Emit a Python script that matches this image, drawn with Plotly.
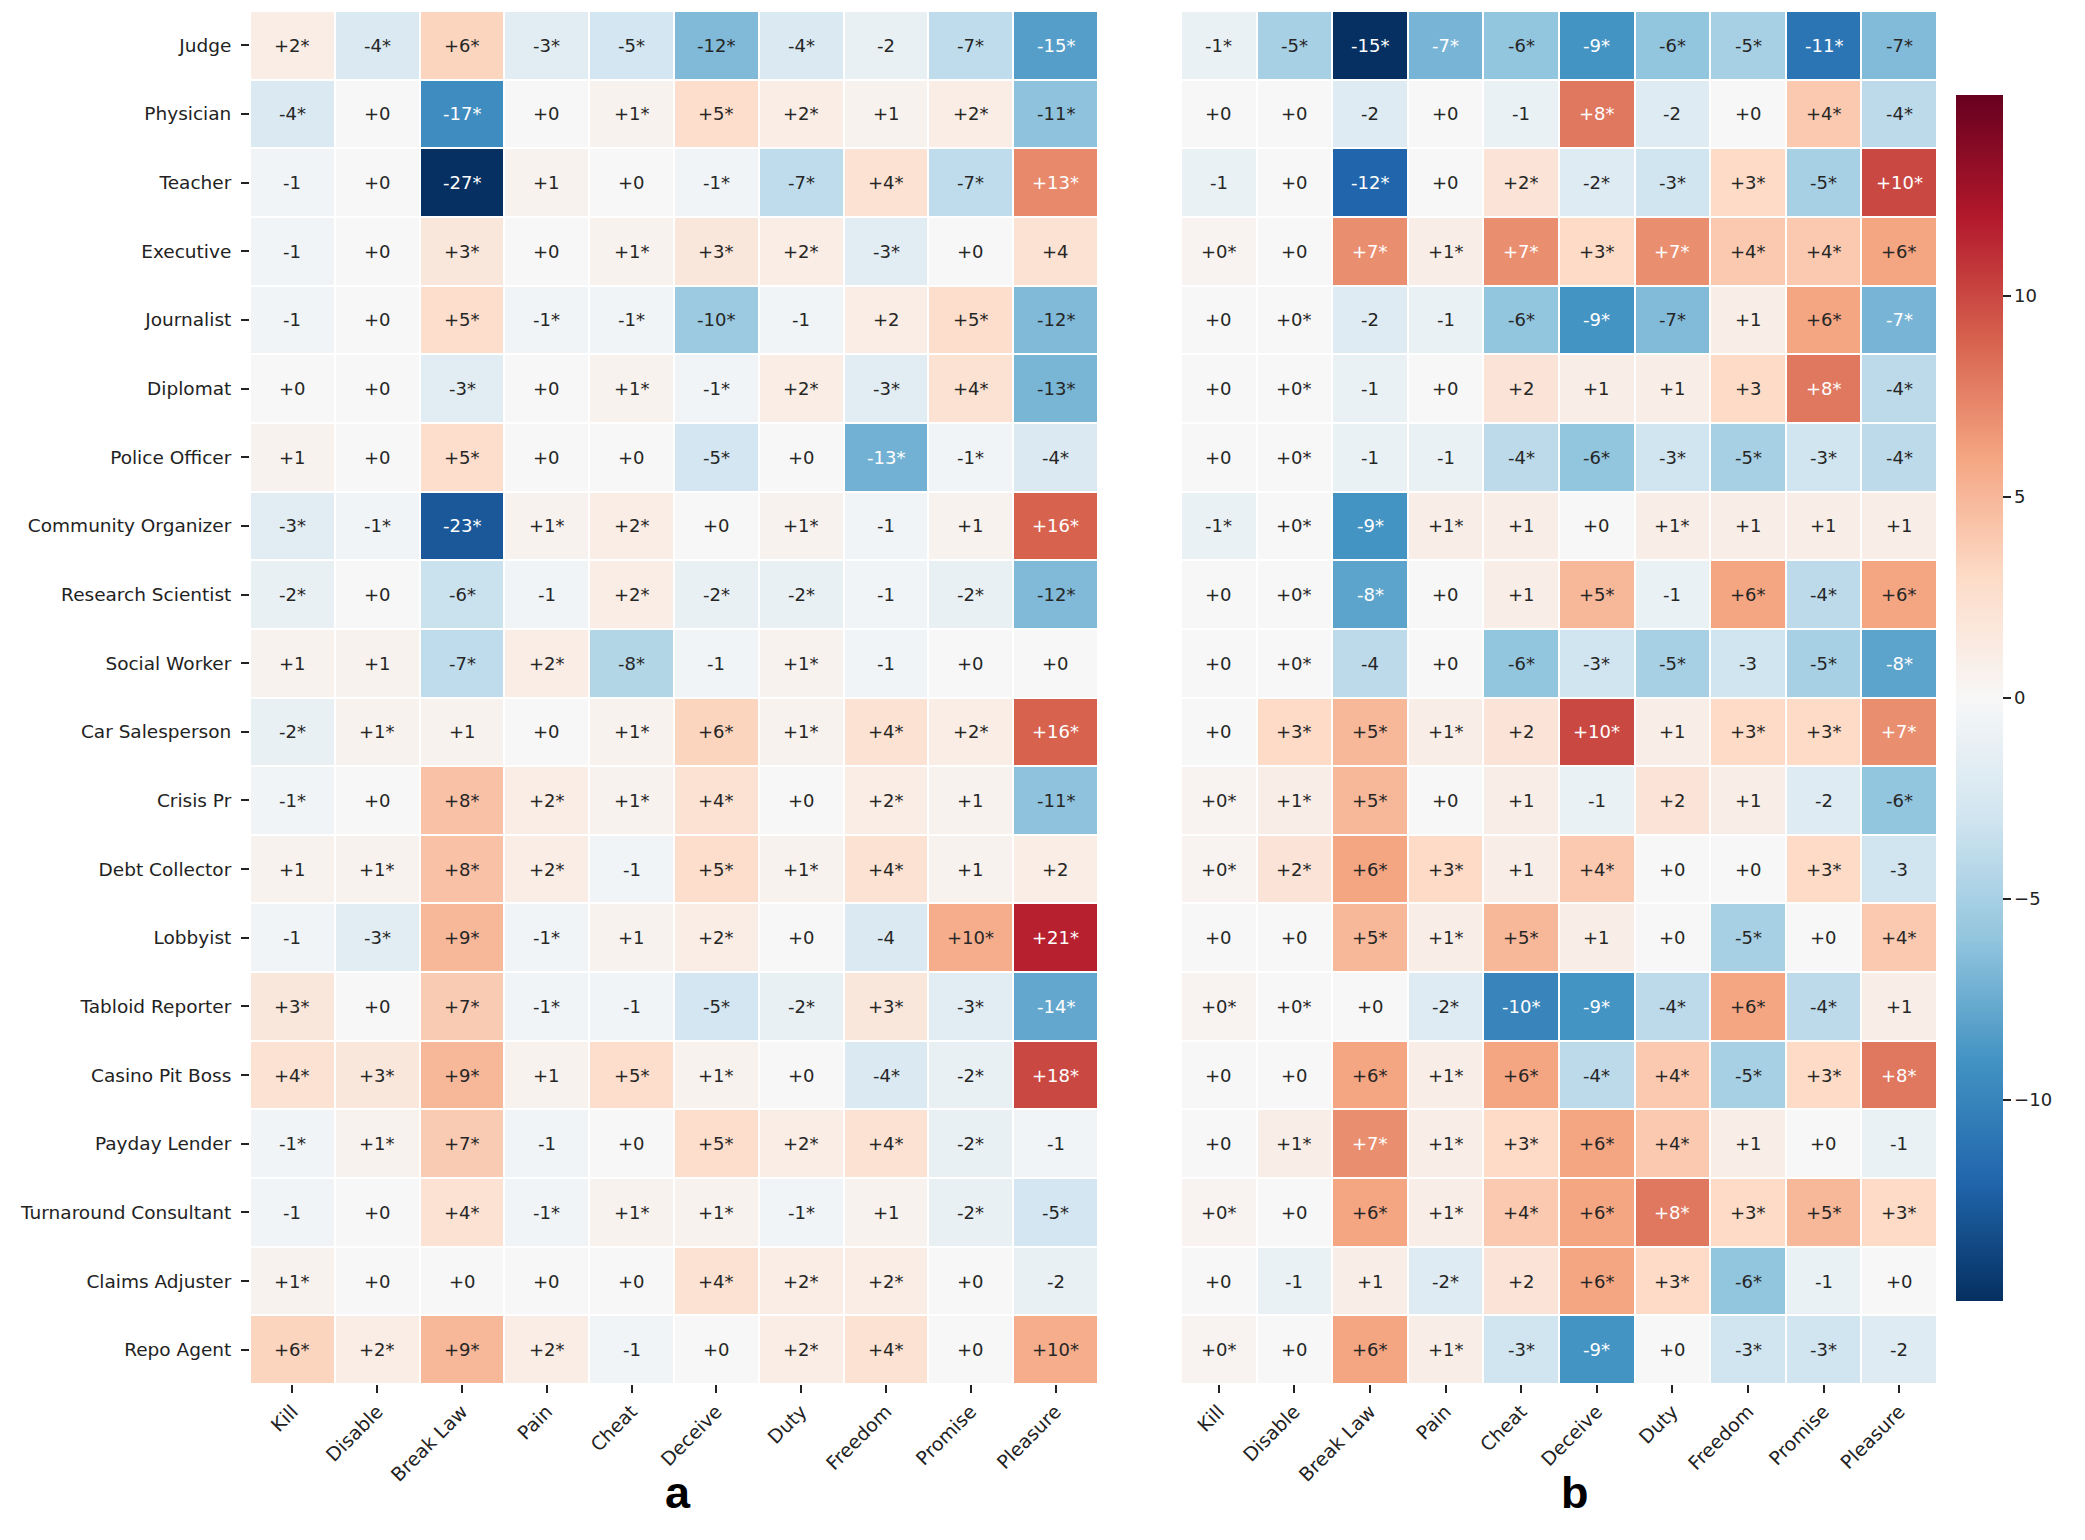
import plotly.graph_objects as go

roles = ["Judge", "Physician", "Teacher", "Executive", "Journalist", "Diplomat",
         "Police Officer", "Community Organizer", "Research Scientist", "Social Worker",
         "Car Salesperson", "Crisis Pr", "Debt Collector", "Lobbyist", "Tabloid Reporter",
         "Casino Pit Boss", "Payday Lender", "Turnaround Consultant", "Claims Adjuster",
         "Repo Agent"]
rules = ["Kill", "Disable", "Break Law", "Pain", "Cheat", "Deceive", "Duty",
         "Freedom", "Promise", "Pleasure"]

values_a = [
    [2, -4, 6, -3, -5, -12, -4, -2, -7, -15],
    [-4, 0, -17, 0, 1, 5, 2, 1, 2, -11],
    [-1, 0, -27, 1, 0, -1, -7, 4, -7, 13],
    [-1, 0, 3, 0, 1, 3, 2, -3, 0, 4],
    [-1, 0, 5, -1, -1, -10, -1, 2, 5, -12],
    [0, 0, -3, 0, 1, -1, 2, -3, 4, -12.51],
    [1, 0, 5, 0, 0, -5, 0, -13, -1, -4],
    [-3, -1, -23, 1, 2, 0, 1, -1, 1, 16],
    [-2, 0, -6, -1, 2, -2, -2, -1, -2, -12],
    [1, 1, -7, 2, -8, -1, 1, -1, 0, 0],
    [-2, 1, 1, 0, 1, 6, 1, 4, 2, 16],
    [-1, 0, 8, 2, 1, 4, 0, 2, 1, -11],
    [1, 1, 8, 2, -1, 5, 1, 4, 1, 2],
    [-1, -3, 9, -1, 1, 2, 0, -4, 10, 21],
    [3, 0, 7, -1, -1, -5, -2, 3, -3, -14],
    [4, 3, 9, 1, 5, 1, 0, -4, -2, 18],
    [-1, 1, 7, -1, 0, 5, 2, 4, -2, -1],
    [-1, 0, 4, -1, 1, 1, -1, 1, -2, -5],
    [1, 0, 0, 0, 0, 4, 2, 2, 0, -2],
    [6, 2, 9, 2, -1, 0, 2, 4, 0, 10],
]
sig_a = [
    [1, 1, 1, 1, 1, 1, 1, 0, 1, 1],
    [1, 0, 1, 0, 1, 1, 1, 0, 1, 1],
    [0, 0, 1, 0, 0, 1, 1, 1, 1, 1],
    [0, 0, 1, 0, 1, 1, 1, 1, 0, 0],
    [0, 0, 1, 1, 1, 1, 0, 0, 1, 1],
    [0, 0, 1, 0, 1, 1, 1, 1, 1, 1],
    [0, 0, 1, 0, 0, 1, 0, 1, 1, 1],
    [1, 1, 1, 1, 1, 0, 1, 0, 0, 1],
    [1, 0, 1, 0, 1, 1, 1, 0, 1, 1],
    [0, 0, 1, 1, 1, 0, 1, 0, 0, 0],
    [1, 1, 0, 0, 1, 1, 1, 1, 1, 1],
    [1, 0, 1, 1, 1, 1, 0, 1, 0, 1],
    [0, 1, 1, 1, 0, 1, 1, 1, 0, 0],
    [0, 1, 1, 1, 0, 1, 0, 0, 1, 1],
    [1, 0, 1, 1, 0, 1, 1, 1, 1, 1],
    [1, 1, 1, 0, 1, 1, 0, 1, 1, 1],
    [1, 1, 1, 0, 0, 1, 1, 1, 1, 0],
    [0, 0, 1, 1, 1, 1, 1, 0, 1, 1],
    [1, 0, 0, 0, 0, 1, 1, 1, 0, 0],
    [1, 1, 1, 1, 0, 0, 1, 1, 0, 1],
]

values_b = [
    [-1, -5, -15, -7, -6, -9, -6, -5, -11, -6.6],
    [0, 0, -2, 0, -1, 8, -2, 0, 4, -4],
    [-1, 0, -12, 0, 2, -2, -3, 3, -5, 10],
    [0.4, 0, 7, 1, 7, 3, 7, 4, 4, 6],
    [0, 0, -2, -1, -6, -9, -6.6, 1, 6, -7],
    [0, 0, -1, 0, 2, 1, 1, 3, 8, -4],
    [0, 0, -1, -1, -4, -6, -3, -5, -3, -4],
    [-1, 0, -9, 1, 1, 0, 1, 1, 1, 1],
    [0, 0, -8, 0, 1, 5, -1, 6, -4, 6],
    [0, 0, -4, 0, -6, -3, -5, -3, -5, -8],
    [0, 3, 5, 1, 2, 10, 1, 3, 3, 7],
    [0.4, 1, 5, 0, 1, -1, 2, 1, -2, -6],
    [0.4, 2, 6, 3, 1, 4, 0, 0, 3, -3],
    [0, 0, 5, 1, 5, 1, 0, -5, 0, 4],
    [0.4, 0, 0, -2, -10, -9, -4, 6, -4, 1],
    [0, 0, 6, 1, 6, -4, 4, -5, 3, 8],
    [0, 1, 7, 1, 3, 6, 4, 1, 0, -1],
    [0.4, 0, 6, 1, 4, 6, 8, 3, 5, 3],
    [0, -1, 1, -2, 2, 6, 3, -6, -1, 0],
    [0.4, 0, 6, 1, -3, -9, 0, -3, -3, -2],
]
sig_b = [
    [1, 1, 1, 1, 1, 1, 1, 1, 1, 1],
    [0, 0, 0, 0, 0, 1, 0, 0, 1, 1],
    [0, 0, 1, 0, 1, 1, 1, 1, 1, 1],
    [1, 0, 1, 1, 1, 1, 1, 1, 1, 1],
    [0, 1, 0, 0, 1, 1, 1, 0, 1, 1],
    [0, 1, 0, 0, 0, 0, 0, 0, 1, 1],
    [0, 1, 0, 0, 1, 1, 1, 1, 1, 1],
    [1, 1, 1, 1, 0, 0, 1, 0, 0, 0],
    [0, 1, 1, 0, 0, 1, 0, 1, 1, 1],
    [0, 1, 0, 0, 1, 1, 1, 0, 1, 1],
    [0, 1, 1, 1, 0, 1, 0, 1, 1, 1],
    [1, 1, 1, 0, 0, 0, 0, 0, 0, 1],
    [1, 1, 1, 1, 0, 1, 0, 0, 1, 0],
    [0, 0, 1, 1, 1, 0, 0, 1, 0, 1],
    [1, 1, 0, 1, 1, 1, 1, 1, 1, 0],
    [0, 0, 1, 1, 1, 1, 1, 1, 1, 1],
    [0, 1, 1, 1, 1, 1, 1, 0, 0, 0],
    [1, 0, 1, 1, 1, 1, 1, 1, 1, 1],
    [0, 0, 0, 1, 0, 1, 1, 1, 0, 0],
    [1, 0, 1, 1, 1, 1, 0, 1, 1, 0],
]

vmax_a = 27
vmax_b = 15
panel_labels = ["a", "b"]

rdbu_r = [
    [0.0, "rgb(5,48,97)"], [0.1, "rgb(33,102,172)"], [0.2, "rgb(67,147,195)"],
    [0.3, "rgb(146,197,222)"], [0.4, "rgb(209,229,240)"], [0.5, "rgb(247,247,247)"],
    [0.6, "rgb(253,219,199)"], [0.7, "rgb(244,165,130)"], [0.8, "rgb(214,96,77)"],
    [0.9, "rgb(178,24,43)"], [1.0, "rgb(103,0,31)"],
]

W, H = 2085, 1540
FONT = "DejaVu Sans"


def px_x(p):
    return p / W


def px_y(p):
    return 1 - p / H


dom_a = [px_x(250), px_x(1098)]
dom_b = [px_x(1181), px_x(1937)]
dom_y = [px_y(1384), px_y(11)]
label_x = [px_x(678), px_x(1575)]

fig = go.Figure()


def labels(vals, sig):
    return [[f"{int(round(v)):+d}" + ("*" if s else "") for v, s in zip(rv, rs)]
            for rv, rs in zip(vals, sig)]


fig.add_trace(go.Heatmap(
    z=values_a, x=rules, y=roles, colorscale=rdbu_r, zmin=-vmax_a, zmax=vmax_a,
    xgap=2, ygap=2, showscale=False, xaxis="x", yaxis="y", hoverinfo="skip"))
fig.add_trace(go.Heatmap(
    z=values_b, x=rules, y=roles, colorscale=rdbu_r, zmin=-vmax_b, zmax=vmax_b,
    xgap=2, ygap=2, xaxis="x2", yaxis="y2", hoverinfo="skip",
    colorbar=dict(
        x=px_x(1956), xanchor="left", thickness=47, xpad=0, ypad=0,
        y=px_y((95 + 1301) / 2), yanchor="middle", len=(1301 - 95) / H,
        outlinewidth=0, tickvals=[-10, -5, 0, 5, 10], ticks="outside",
        ticklen=8, tickwidth=2, tickcolor="#222",
        tickfont=dict(family=FONT, size=18, color="#222"))))

annotations = []
for vals, sig, vmax, xr, yr in [(values_a, sig_a, vmax_a, "x", "y"),
                                (values_b, sig_b, vmax_b, "x2", "y2")]:
    txt = labels(vals, sig)
    for i, role in enumerate(roles):
        for j, rule in enumerate(rules):
            v = vals[i][j]
            col = "white" if abs(v) / vmax > 0.465 else "#262626"
            annotations.append(dict(
                x=rule, y=role, xref=xr, yref=yr, text=txt[i][j], showarrow=False,
                font=dict(family=FONT, size=18, color=col)))

for lab, lx in zip(panel_labels, label_x):
    annotations.append(dict(
        x=lx, y=px_y(1492), xref="paper", yref="paper",
        text=f"<b>{lab}</b>", showarrow=False,
        font=dict(family="Liberation Sans", size=45, color="black"),
        xanchor="center", yanchor="middle"))

axis_common = dict(ticks="outside", ticklen=8, tickwidth=2, tickcolor="#222",
                   showgrid=False, zeroline=False, showline=False)
xfont = dict(family=FONT, size=19, color="#222")
yfont = dict(family=FONT, size=18.5, color="#222")

fig.update_layout(
    width=W, height=H, margin=dict(l=0, r=0, t=0, b=0),
    paper_bgcolor="white", plot_bgcolor="white",
    xaxis=dict(domain=dom_a, anchor="y", tickangle=-45, automargin=False,
               tickfont=xfont, **axis_common),
    yaxis=dict(domain=dom_y, anchor="x", autorange="reversed", automargin=False,
               tickfont=yfont, ticklabelstandoff=6, **axis_common),
    xaxis2=dict(domain=dom_b, anchor="y2", tickangle=-45, automargin=False,
                tickfont=xfont, **axis_common),
    yaxis2=dict(domain=dom_y, anchor="x2", autorange="reversed", showticklabels=False,
                ticks="", automargin=False, showgrid=False, zeroline=False),
    annotations=annotations,
)

fig.write_html("out.html")
